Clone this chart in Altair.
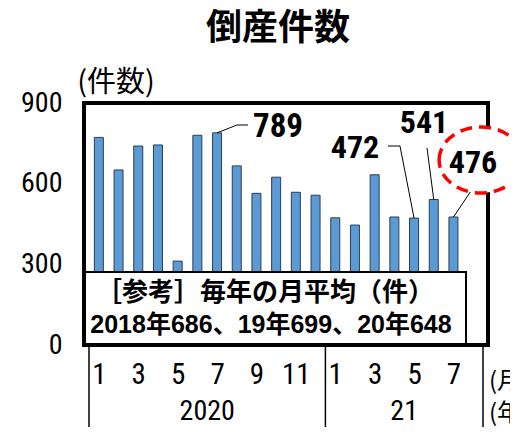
import altair as alt
import pandas as pd

# ---- data ----
months_2020 = [1, 2, 3, 4, 5, 6, 7, 8, 9, 10, 11, 12]
values_2020 = [772, 651, 740, 744, 312, 780, 789, 666, 564, 624, 568, 557]
months_2021 = [1, 2, 3, 4, 5, 6, 7]
values_2021 = [473, 446, 633, 476, 472, 541, 476]
year_labels = ["2020", "21"]
tick_months = [1, 3, 5, 7, 9, 11]
y_ticks = [0, 300, 600, 900]
avg_years = ["2018", "19", "20"]
avg_values = [686, 699, 648]
title_text = "倒産件数"
unit_text = "(件数)"
box_title = "［参考］毎年の月平均（件）"

n2020 = len(months_2020)
slots_2021 = 8  # the 2021 block keeps room for an 8th month

rows = []
for i, (m, v) in enumerate(zip(months_2020, values_2020)):
    rows.append({"idx": i + 1, "month": m, "value": v})
for i, (m, v) in enumerate(zip(months_2021, values_2021)):
    rows.append({"idx": n2020 + i + 1, "month": m, "value": v})
df = pd.DataFrame(rows)

years_df = pd.DataFrame({
    "label": year_labels,
    "center": [(1 + n2020) / 2, n2020 + (1 + slots_2021) / 2],
})
sep_df = pd.DataFrame({"pos": [0.5, n2020 + 0.5, n2020 + slots_2021 + 0.5]})
one = pd.DataFrame({"k": [0]})
avg_line = "、".join(f"{y}年{v}" for y, v in zip(avg_years, avg_values))

W, H = 404, 242
NUM = "'Liberation Sans Narrow', 'Roboto Condensed', 'DejaVu Sans Condensed', 'Liberation Sans', 'Noto Sans CJK JP', sans-serif"
ARIAL = "'Liberation Sans', 'Noto Sans CJK JP', sans-serif"
CJK = "'Noto Sans CJK JP', sans-serif"

xscale = alt.Scale(domain=[0.5, n2020 + slots_2021 + 0.5], nice=False, zero=False)
yscale = alt.Scale(domain=[0, 900], nice=False)

tick_idx = tick_months + [n2020 + m for m in tick_months if m <= 7]

bars = alt.Chart(df).mark_bar(size=9, color="#5B9BD5", stroke="#2F3D4F", strokeWidth=1).encode(
    x=alt.X("idx:Q", scale=xscale,
            axis=alt.Axis(values=tick_idx, title=None, domain=False, ticks=False, grid=False,
                          labelExpr=f"datum.value > {n2020} ? datum.value - {n2020} : datum.value",
                          labelFont=NUM, labelFontSize=29, labelPadding=15, labelColor="black",
                          labelFlush=False)),
    y=alt.Y("value:Q", scale=yscale,
            axis=alt.Axis(values=y_ticks, title=None, domain=False, ticks=False, grid=False,
                          labelFont=NUM, labelFontSize=28, labelPadding=22, labelColor="black")),
)

box = alt.Chart(one).mark_rect(fill="white", stroke="black", strokeWidth=2).encode(
    x=alt.value(0), x2=alt.value(382), y=alt.value(169), y2=alt.value(H))
box_t1 = alt.Chart(one).mark_text(text=box_title, font=CJK, fontSize=26, fontWeight="bold",
                                  color="black", baseline="middle").encode(
    x=alt.value(181), y=alt.value(190))
box_t2 = alt.Chart(one).mark_text(text=avg_line, font=ARIAL,
                                  fontSize=25, fontWeight="bold", color="black",
                                  baseline="middle").encode(
    x=alt.value(187), y=alt.value(222))

frame = alt.Chart(one).mark_rect(filled=False, stroke="black", strokeWidth=4).encode(
    x=alt.value(0), x2=alt.value(W), y=alt.value(0), y2=alt.value(H))

seps = alt.Chart(sep_df).mark_rule(color="black", strokeWidth=1.5).encode(
    x=alt.X("pos:Q", scale=xscale), y=alt.value(H), y2=alt.value(H + 100))

years = alt.Chart(years_df).mark_text(font=NUM, fontSize=28, color="black",
                                      baseline="alphabetic").encode(
    x=alt.X("center:Q", scale=xscale), y=alt.value(317), text="label:N")

unit_m = alt.Chart(one).mark_text(text="(月)", font=CJK, fontSize=24, color="black",
                                  align="left", baseline="alphabetic").encode(
    x=alt.value(405), y=alt.value(286))
unit_y = alt.Chart(one).mark_text(text="(年)", font=CJK, fontSize=24, color="black",
                                  align="left", baseline="alphabetic").encode(
    x=alt.value(405), y=alt.value(318))

title = alt.Chart(one).mark_text(text=title_text, font=CJK, fontSize=36, fontWeight="bold",
                                 color="black", baseline="middle").encode(
    x=alt.value(194), y=alt.value(-74))
unit = alt.Chart(one).mark_text(text=unit_text, font=CJK, fontSize=29, color="black",
                                baseline="middle").encode(
    x=alt.value(32), y=alt.value(-20))


def leader(idx, px, py):
    return alt.Chart(df).transform_filter(alt.datum.idx == idx).mark_rule(
        color="black", strokeWidth=1).encode(
        x=alt.X("idx:Q", scale=xscale), y=alt.Y("value:Q", scale=yscale),
        x2=alt.value(px), y2=alt.value(py))


def seg(x1, y1, x2, y2):
    return alt.Chart(one).mark_rule(color="black", strokeWidth=1).encode(
        x=alt.value(x1), y=alt.value(y1), x2=alt.value(x2), y2=alt.value(y2))


def label(idx, px, py, size):
    return alt.Chart(df).transform_filter(alt.datum.idx == idx).mark_text(
        font=NUM, fontSize=size, fontWeight="bold", color="black", baseline="alphabetic").encode(
        x=alt.value(px), y=alt.value(py), text="value:Q")


ellipse = alt.Chart(one).mark_point(
    shape="M-1.27,0A1.27,1,0,1,1,1.27,0A1.27,1,0,1,1,-1.27,0Z",
    size=4356, fill="white", fillOpacity=1, opacity=1, stroke="#FF0000", strokeWidth=3.5,
    strokeDash=[12, 7]).encode(x=alt.value(397), y=alt.value(57))

chart = alt.layer(
    bars, box, box_t1, box_t2, frame, seps, years, unit_m, unit_y, title, unit,
    leader(7, 153, 22), seg(153, 22, 164, 22),
    leader(17, 316, 43), seg(316, 43, 304, 43),
    leader(18, 343, 45),
    leader(19, 389, 85),
    ellipse,
    label(7, 194, 34, 33), label(17, 271, 55, 32), label(18, 340, 30, 32), label(19, 389, 70, 32),
).properties(
    width=W, height=H,
    autosize=alt.AutoSizeParams(type="none"),
    padding={"left": 76, "top": 95, "right": 22, "bottom": 82},
).configure_view(stroke=None)

chart.save("out.html", embed_options={"renderer": "svg", "actions": False})
